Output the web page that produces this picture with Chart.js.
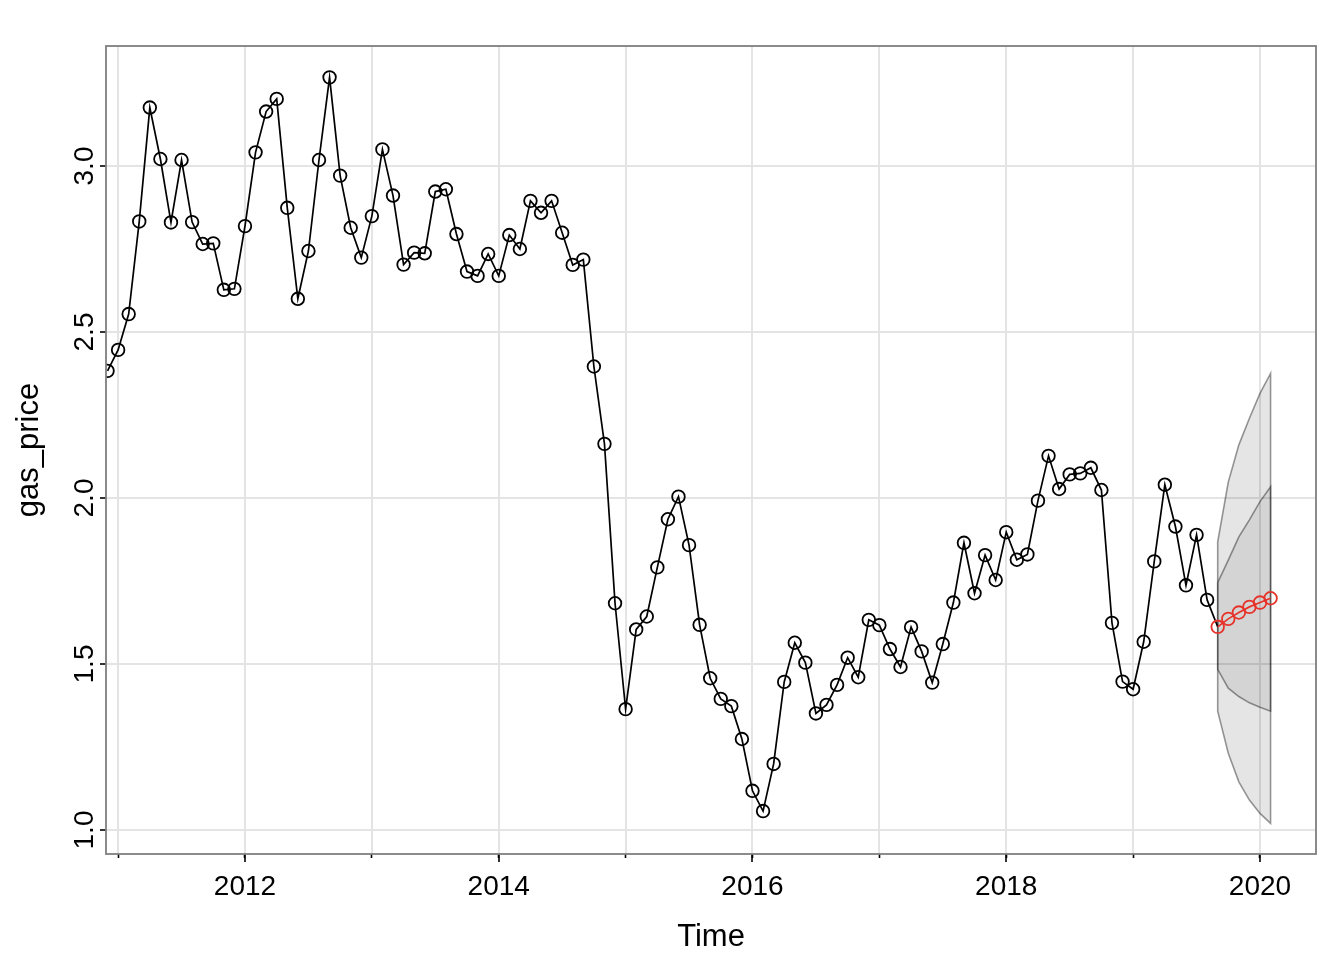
<!DOCTYPE html>
<html><head><meta charset="utf-8">
<script src="https://cdn.jsdelivr.net/npm/chart.js@4.4.1/dist/chart.umd.min.js"></script>
<style>html,body{margin:0;padding:0;background:#fff;}canvas{display:block;}</style>
</head><body>
<canvas id="c" width="1344" height="960"></canvas>
<script>
// ---- data ----
const startYear = 2010;
const startMonth = 12; // Dec 2010
const gasPrice = [
  2.383,
  2.446, 2.554, 2.833, 3.176, 3.021, 2.830, 3.018, 2.831, 2.765, 2.767, 2.627, 2.630,
  2.819, 3.041, 3.164, 3.202, 2.874, 2.600, 2.744, 3.018, 3.267, 2.971, 2.814, 2.724,
  2.849, 3.050, 2.911, 2.703, 2.739, 2.737, 2.923, 2.930, 2.795, 2.682, 2.669, 2.735,
  2.669, 2.792, 2.750, 2.895, 2.859, 2.895, 2.799, 2.702, 2.718, 2.396, 2.163, 1.683,
  1.364, 1.604, 1.643, 1.791, 1.936, 2.004, 1.858, 1.618, 1.457, 1.395, 1.373, 1.274,
  1.118, 1.057, 1.199, 1.446, 1.564, 1.504, 1.351, 1.377, 1.437, 1.519, 1.460, 1.633,
  1.617, 1.545, 1.491, 1.611, 1.538, 1.444, 1.560, 1.685, 1.865, 1.713, 1.828, 1.753,
  1.897, 1.814, 1.830, 1.992, 2.127, 2.027, 2.071, 2.074, 2.091, 2.024, 1.624, 1.447,
  1.424, 1.567, 1.809, 2.040, 1.914, 1.737, 1.889, 1.693
];
const forecastMean = [1.612, 1.636, 1.655, 1.672, 1.685, 1.698];
const upper95 = [1.868, 2.048, 2.160, 2.240, 2.315, 2.375];
const lower95 = [1.358, 1.231, 1.145, 1.090, 1.050, 1.020];
const upper80 = [1.745, 1.813, 1.883, 1.934, 1.989, 2.034];
const lower80 = [1.484, 1.427, 1.402, 1.383, 1.370, 1.358];
const xTickYears = [2011, 2012, 2013, 2014, 2015, 2016, 2017, 2018, 2019, 2020];
const xLabelYears = [2012, 2014, 2016, 2018, 2020];
const yTicks = [1.0, 1.5, 2.0, 2.5, 3.0];
const yTickLabels = ['1.0', '1.5', '2.0', '2.5', '3.0'];
const xTitle = 'Time';
const yTitle = 'gas_price';

// ---- derived ----
const t0 = startYear + (startMonth - 1) / 12;
const timeAt = i => t0 + i / 12;
const obsPts = gasPrice.map((v, i) => ({x: timeAt(i), y: v}));
const fcPts = forecastMean.map((v, i) => ({x: timeAt(gasPrice.length + i), y: v}));
const obsLine = obsPts.concat([fcPts[0]]);
function polygon(up, lo) {
  const u = up.map((v, i) => ({x: timeAt(gasPrice.length + i), y: v}));
  const l = lo.map((v, i) => ({x: timeAt(gasPrice.length + i), y: v})).reverse();
  return u.concat(l, [u[0]]);
}
const FONT = "'Liberation Sans', Arial, Helvetica, sans-serif";
const xMin = 2010.9046, xMax = 2020.4414;
const yMin = 0.9277, yMax = 3.3614;

const framePlugin = {
  id: 'frame',
  afterDatasetsDraw(chart) {
    const {ctx, chartArea: a} = chart;
    ctx.save();
    ctx.strokeStyle = '#7f7f7f';
    ctx.lineWidth = 1.8;
    ctx.strokeRect(a.left, a.top, a.right - a.left, a.bottom - a.top);
    ctx.restore();
  }
};

const tickYearsFn = s => { s.ticks = xTickYears.map(v => ({value: v})); };

new Chart(document.getElementById('c'), {
  type: 'line',
  data: {
    datasets: [
      {data: polygon(upper95, lower95), fill: 'shape', backgroundColor: 'rgba(0,0,0,0.1)',
       borderColor: 'rgba(0,0,0,0.4)', borderWidth: 1.6, pointRadius: 0, order: 6, clip: 0},
      {data: polygon(upper80, lower80), fill: 'shape', backgroundColor: 'rgba(0,0,0,0.08)',
       borderColor: 'rgba(0,0,0,0.4)', borderWidth: 1.6, pointRadius: 0, order: 5, clip: 0},
      {data: obsLine, borderColor: '#000', borderWidth: 1.7, tension: 0, fill: false,
       pointRadius: c => c.dataIndex < gasPrice.length ? 6.3 : 0,
       pointBorderColor: '#000', pointBackgroundColor: 'rgba(0,0,0,0)', pointBorderWidth: 1.8,
       order: 2, clip: 0},
      {data: fcPts, borderColor: '#e6332a', borderWidth: 1.7, tension: 0, fill: false,
       pointRadius: 6.3, pointBorderColor: '#e6332a', pointBackgroundColor: 'rgba(0,0,0,0)',
       pointBorderWidth: 1.8, order: 1, clip: 0}
    ]
  },
  options: {
    responsive: false,
    animation: false,
    events: [],
    layout: {padding: {top: 46, right: 28, left: 0, bottom: 0}},
    plugins: {legend: {display: false}, tooltip: {enabled: false}},
    scales: {
      x: {
        type: 'linear', position: 'bottom', weight: 1, min: xMin, max: xMax,
        afterBuildTicks: tickYearsFn,
        afterFit: s => { s.height = 106; },
        ticks: {
          autoSkip: false, maxRotation: 0, padding: 8, color: '#000',
          font: {family: FONT, size: 28},
          callback: v => xLabelYears.includes(v) ? String(v) : ''
        },
        grid: {
          color: '#e4e4e4', lineWidth: 2, tickLength: 8, tickWidth: 1.6,
          tickColor: c => (c.tick && xLabelYears.includes(c.tick.value)) ? '#000' : 'rgba(0,0,0,0)'
        },
        border: {display: false},
        title: {display: true, text: xTitle, color: '#000', font: {family: FONT, size: 31},
                padding: {top: 0, bottom: 4}}
      },
      xMinor: {
        type: 'linear', position: 'bottom', weight: 0, min: xMin, max: xMax,
        afterBuildTicks: tickYearsFn,
        afterFit: s => { s.height = 0; },
        ticks: {display: false},
        grid: {drawOnChartArea: false, tickLength: 4, tickWidth: 1.6, tickColor: '#000'},
        border: {display: false}
      },
      y: {
        type: 'linear', position: 'left', min: yMin, max: yMax,
        afterBuildTicks: s => { s.ticks = yTicks.map(v => ({value: v})); },
        afterFit: s => { s.width = 106; },
        ticks: {
          autoSkip: false, minRotation: 90, maxRotation: 90, crossAlign: 'center', padding: -5,
          color: '#000', font: {family: FONT, size: 28},
          callback: (v, i) => yTickLabels[i]
        },
        grid: {color: '#e4e4e4', lineWidth: 2, tickLength: 6, tickWidth: 1.6, tickColor: '#000'},
        border: {display: false},
        title: {display: true, text: yTitle, color: '#000', font: {family: FONT, size: 31},
                padding: {top: 11, bottom: 0}}
      }
    }
  },
  plugins: [framePlugin]
});
</script>
</body></html>
